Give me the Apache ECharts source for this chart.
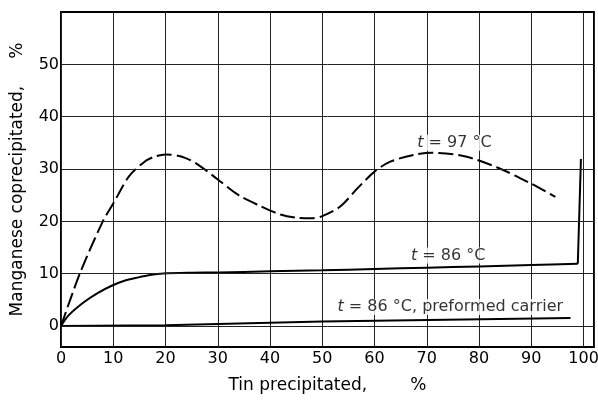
<!DOCTYPE html>
<html>
<head>
<meta charset="utf-8">
<script src="https://cdn.jsdelivr.net/npm/echarts@6/dist/echarts.min.js"></script>
<style>
  html, body { margin: 0; padding: 0; background: #fff; }
  #chart { width: 598px; height: 401px; }
</style>
</head>
<body>
<div id="chart"></div>
<script>
// tick values
var xTicks = [0, 10, 20, 30, 40, 50, 60, 70, 80, 90, 100];
var yTicks = [0, 10, 20, 30, 40, 50];

// t = 97 C (dashed)
var x97 = [0, 3.6, 8, 10, 13, 16, 18, 20, 23, 26, 30, 34, 38, 42, 45, 48, 50, 53.5, 57, 60, 63, 67.5, 71, 77, 83.5, 90, 94.6];
var y97 = [0, 10, 20, 23.4, 28.6, 31.4, 32.4, 32.8, 32.4, 31, 28, 25, 23, 21.3, 20.7, 20.6, 21, 22.9, 26.6, 29.5, 31.4, 32.7, 33.1, 32.5, 30.3, 27.2, 24.7];

// t = 86 C, curve then the sharp rise at the end
var x86 = [0, 1.4, 4.3, 7, 9.7, 12, 14.8, 17, 19.6, 25, 30, 40, 50, 60, 70, 80, 90, 98.9];
var y86 = [0, 2, 4.5, 6.3, 7.7, 8.6, 9.3, 9.75, 10.05, 10.2, 10.25, 10.45, 10.65, 10.9, 11.15, 11.4, 11.65, 11.9];
var x86Rise = [98.9, 99.5];
var y86Rise = [11.9, 31.9];

// t = 86 C, preformed carrier
var xPre = [0, 20, 50, 97.5];
var yPre = [0, 0.15, 0.85, 1.55];

// curve labels
var labelText = ['{i|t} = 97 °C', '{i|t} = 86 °C', '{i|t} = 86 °C, preformed carrier'];
var labelX = [75.3, 74.1, 74.5];
var labelY = [35, 13.5, 3.65];

function pairs(xs, ys) {
  return xs.map(function (x, i) { return [x, ys[i]]; });
}

var font = 'DejaVu Sans';
var chart = echarts.init(document.getElementById('chart'));

var option = {
  animation: false,
  grid: {
    left: 61, right: 4, top: 12, bottom: 54,
    outerBoundsMode: 'none',
    containLabel: false,
    show: true, borderColor: '#000', borderWidth: 2
  },
  xAxis: {
    type: 'value',
    min: 0, max: 102, interval: 10,
    name: 'Tin precipitated,        %',
    nameLocation: 'middle',
    nameGap: 30,
    nameTextStyle: { fontFamily: font, fontSize: 17, color: '#000', verticalAlign: 'top' },
    axisLine: { show: false },
    axisTick: { show: false },
    axisLabel: {
      customValues: xTicks,
      margin: 4,
      fontFamily: font, fontSize: 16, color: '#000'
    },
    splitLine: { show: true, lineStyle: { color: '#222', width: 1 } }
  },
  yAxis: {
    type: 'value',
    min: -4, max: 60,
    name: 'Manganese coprecipitated,     %',
    nameLocation: 'middle',
    nameGap: 35,
    nameTextStyle: { fontFamily: font, fontSize: 17, color: '#000' },
    axisLine: { show: false },
    axisTick: { show: false },
    axisLabel: {
      customValues: yTicks,
      margin: 2,
      fontFamily: font, fontSize: 16, color: '#000'
    },
    splitLine: { show: false }
  },
  series: [
    {
      name: 't = 97 °C',
      type: 'line',
      data: pairs(x97, y97),
      smooth: 0.3,
      symbol: 'none',
      lineStyle: { color: '#000', width: 2, type: [15, 5] }
    },
    {
      name: 't = 86 °C',
      type: 'line',
      data: pairs(x86, y86),
      smooth: 0.3,
      symbol: 'none',
      lineStyle: { color: '#000', width: 2 }
    },
    {
      name: 't = 86 °C rise',
      type: 'line',
      data: pairs(x86Rise, y86Rise),
      symbol: 'none',
      lineStyle: { color: '#000', width: 2 }
    },
    {
      name: 'preformed carrier',
      type: 'line',
      data: pairs(xPre, yPre),
      symbol: 'none',
      lineStyle: { color: '#000', width: 2 },
      markLine: {
        silent: true,
        symbol: 'none',
        label: { show: false },
        lineStyle: { color: '#222', width: 1, type: 'solid' },
        data: yTicks.map(function (v) { return { yAxis: v }; })
      }
    },
    {
      name: 'labels',
      type: 'scatter',
      symbolSize: 0,
      data: labelText.map(function (t, i) { return { value: [labelX[i], labelY[i]], name: t }; }),
      label: {
        show: true,
        position: 'inside',
        formatter: function (p) { return p.name; },
        fontFamily: font, fontSize: 16, color: '#000',
        backgroundColor: '#fff',
        rich: {
          i: { fontFamily: font, fontSize: 16, fontStyle: 'italic', color: '#000' }
        }
      }
    }
  ]
};
chart.setOption(option);
</script>
</body>
</html>
